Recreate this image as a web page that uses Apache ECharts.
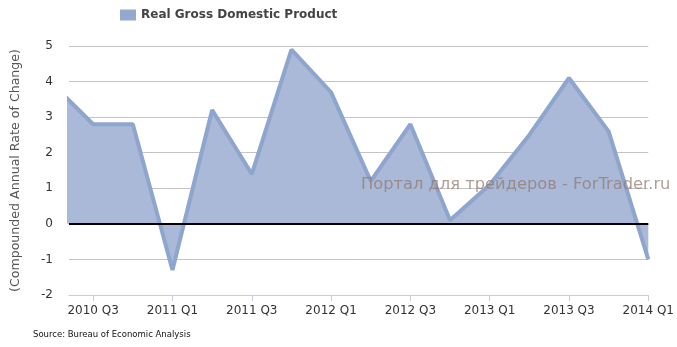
<!DOCTYPE html>
<html>
<head>
<meta charset="utf-8">
<script src="https://cdn.jsdelivr.net/npm/echarts@6/dist/echarts.min.js"></script>
<style>
html,body{margin:0;padding:0;background:#fff;}
#chart{width:677px;height:347px;}
</style>
</head>
<body>
<div id="chart"></div>
<script>
var quarters = ['2010 Q2','2010 Q3','2010 Q4','2011 Q1','2011 Q2','2011 Q3','2011 Q4','2012 Q1','2012 Q2','2012 Q3','2012 Q4','2013 Q1','2013 Q2','2013 Q3','2013 Q4','2014 Q1'];
var gdpValues = [3.9, 2.8, 2.8, -1.3, 3.2, 1.4, 4.9, 3.7, 1.2, 2.8, 0.1, 1.1, 2.5, 4.1, 2.6, -1.0];
var xTickIndexes = [1, 3, 5, 7, 9, 11, 13, 15];
var seriesName = 'Real Gross Domestic Product';
var yAxisTitle = '(Compounded Annual Rate of Change)';
var sourceText = 'Source: Bureau of Economic Analysis';
var watermarkText = 'Портал для трейдеров - ForTrader.ru';

var points = gdpValues.map(function (v, i) { return [i, v]; });
var font = 'DejaVu Sans, Verdana, sans-serif';

var chart = echarts.init(document.getElementById('chart'), null, {renderer: 'canvas'});
chart.setOption({
  animation: false,
  backgroundColor: '#ffffff',
  grid: {left: 69, right: 25.5, top: 46, bottom: 52},
  legend: {
    show: true,
    left: 115, top: 4,
    itemWidth: 16, itemHeight: 11,
    itemGap: 10,
    icon: 'rect',
    textStyle: {fontFamily: font, fontSize: 12, fontWeight: 'bold', color: '#444'},
    data: [{name: seriesName, itemStyle: {color: '#93a7cf', opacity: 1}}]
  },
  xAxis: {
    type: 'value',
    min: 0.39, max: 15,
    axisLine: {show: true, onZero: false, lineStyle: {color: '#c5cedb', width: 1}},
    axisTick: {show: true, length: 6, lineStyle: {color: '#c5cedb'}, customValues: xTickIndexes},
    axisLabel: {
      show: true, margin: 10, color: '#333', fontFamily: font, fontSize: 12,
      customValues: xTickIndexes,
      formatter: function (v) { return quarters[Math.round(v)]; }
    },
    splitLine: {show: false}
  },
  yAxis: {
    type: 'value',
    min: -2, max: 5, interval: 1,
    name: yAxisTitle,
    nameLocation: 'middle',
    nameGap: 47,
    nameTextStyle: {fontFamily: font, fontSize: 12.6, color: '#555'},
    axisLine: {show: false},
    axisTick: {show: false},
    axisLabel: {margin: 16, color: '#333', fontFamily: font, fontSize: 12},
    splitLine: {show: true, lineStyle: {color: '#c4c4c4', width: 1}}
  },
  series: [{
    name: seriesName,
    type: 'line',
    data: points,
    clip: true,
    symbol: 'none',
    lineStyle: {color: '#8ea5cd', width: 4},
    itemStyle: {color: '#93a7cf'},
    areaStyle: {color: '#a9b9d7', opacity: 1, origin: 0},
    markLine: {
      silent: true,
      symbol: 'none',
      label: {show: false},
      lineStyle: {color: '#000', width: 2, type: 'solid'},
      data: [{yAxis: 0}]
    },
    z: 2
  }],
  graphic: [
    {
      type: 'text', left: 33, top: 330, silent: true,
      style: {text: sourceText, font: '8.5px ' + font, fill: '#111'}
    },
    {
      type: 'text', left: 361, top: 177, silent: true, z: 100,
      style: {text: watermarkText, font: '16.3px ' + font, fill: 'rgba(145,120,110,0.72)'}
    }
  ]
});
</script>
</body>
</html>
